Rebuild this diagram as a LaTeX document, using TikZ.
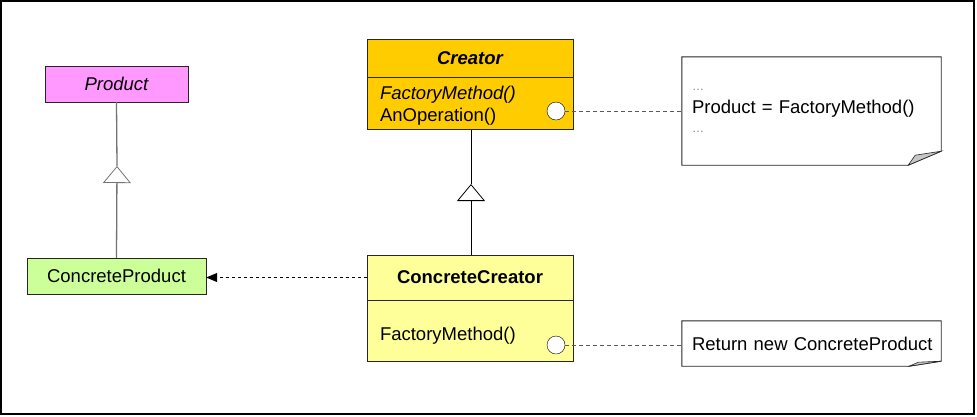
\documentclass[tikz,border=0pt]{standalone}
\usepackage{fontspec}
\setmainfont{Liberation Sans}
\usetikzlibrary{arrows.meta}
\definecolor{productpink}{HTML}{FF99FF}
\definecolor{concretegreen}{HTML}{CCFF99}
\definecolor{creatorgold}{HTML}{FFCC00}
\definecolor{concreteyellow}{HTML}{FFFF99}
\newcommand{\umlfont}{\fontsize{18.5}{21}\selectfont}
\tikzset{
	classbox/.style = {rectangle, draw=black!85, inner sep=0pt, text centered, font=\umlfont},
	abstractbox/.style = {classbox, font=\umlfont\itshape},
	opsbox/.style = {classbox, align=left, text width=180pt, minimum width=206pt},
	port/.style = {circle, draw=black, fill=white, minimum size=18pt, inner sep=0pt},
	notebox/.style = {rectangle, inner sep=0pt, align=left, text width=239pt, minimum width=259pt, font=\umlfont},
	noteline/.style = {draw=black!85, line width=0.9pt},
	fold/.style = {fill=gray!45, draw=black!85, line width=0.6pt},
	genline/.style = {line width=0.9pt},
	inherit/.style = {genline, -{Triangle[open, length=17pt, width=28pt, line width=0.8pt]}},
	depends/.style = {line width=0.8pt, dash pattern=on 3pt off 3pt, -{Triangle[length=11pt, width=9pt]}},
	notelink/.style = {draw=black!65, line width=0.9pt, dash pattern=on 4pt off 3pt}
}
\begin{document}
\begin{tikzpicture}[x=1pt, y=-1pt]
	\useasboundingbox (0,0) rectangle (977,416);
	\draw[line width=1.2pt] (1,1) rectangle (974,414);

	% product side
	\node[abstractbox, fill=productpink, minimum width=143pt, minimum height=36pt] (product) at (116.5,84) {Product};
	\node[classbox, fill=concretegreen, minimum width=179pt, minimum height=36pt] (cproduct) at (116.5,276) {ConcreteProduct};
	\coordinate (ptip) at (117,166);
	\draw[genline, line width=1.3pt, draw=black!55] (product.south) -- (ptip);
	\draw[inherit, line width=1.3pt, draw=black!55] (cproduct.north) -- (ptip);

	% creator side
	\node[classbox, fill=creatorgold, minimum width=206pt, minimum height=38pt, font=\umlfont\bfseries\itshape] (creator) at (470,58) {Creator};
	\node[opsbox, fill=creatorgold, minimum height=52pt, anchor=north] (creatorops) at (creator.south) {\rule{0pt}{19pt}\textit{FactoryMethod()}\\[1pt]AnOperation()};
	\node[classbox, fill=concreteyellow, minimum width=206pt, minimum height=45pt, font=\umlfont\bfseries] (ccreator) at (470,277.5) {ConcreteCreator};
	\node[opsbox, fill=concreteyellow, minimum height=61pt, anchor=north] (ccreatorops) at (ccreator.south) {\rule{0pt}{23pt}FactoryMethod()};
	\coordinate (ctip) at (471,184);
	\draw[genline] (creatorops.south -| ctip) -- (ctip);
	\draw[inherit] (ccreator.north -| ctip) -- (ctip);
	\draw[depends] (ccreator.west) -- (ccreator.west -| cproduct.east);

	% notes
	\node[port] (opport) at (556,111) {};
	\node[port] (fmport) at (556,345) {};
	\node[notebox, minimum height=108pt] (opnote) at (811.5,111)
		{{\fontsize{12}{12}\selectfont\color{gray}\ldots}\\[2pt]\mbox{Product = FactoryMethod()}\\[-2pt]{\fontsize{12}{12}\selectfont\color{gray}\ldots}};
	\node[notebox, minimum height=45pt] (fmnote) at (811.5,343.5) {\mbox{Return new ConcreteProduct}};
	\draw[noteline] (opnote.north west) -- (opnote.north east) -- ([yshift=14pt]opnote.south east)
		-- ([xshift=-33pt]opnote.south east) -- (opnote.south west) -- cycle;
	\draw[fold] ([xshift=-33pt]opnote.south east) -- ([xshift=-26pt, yshift=10pt]opnote.south east) -- ([yshift=14pt]opnote.south east) -- cycle;
	\draw[noteline] (fmnote.north west) -- (fmnote.north east) -- ([yshift=5pt]fmnote.south east)
		-- ([xshift=-32pt]fmnote.south east) -- (fmnote.south west) -- cycle;
	\draw[fold] ([xshift=-32pt]fmnote.south east) -- ([xshift=-23pt, yshift=4pt]fmnote.south east) -- ([yshift=5pt]fmnote.south east) -- cycle;
	\draw[notelink] (opport.east) -- (opport.east -| opnote.west);
	\draw[notelink] (fmport.east) -- (fmport.east -| fmnote.west);
\end{tikzpicture}
\end{document}
